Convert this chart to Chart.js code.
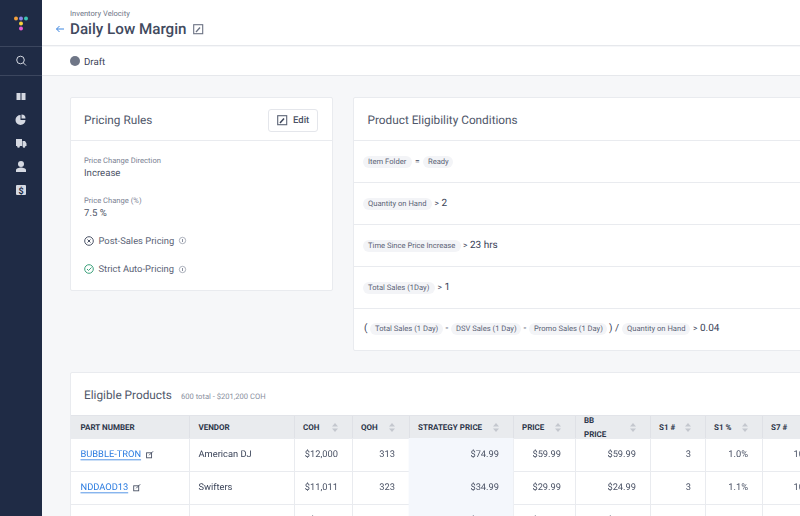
<!DOCTYPE html>
<html><head><meta charset="utf-8">
<script src="https://cdn.jsdelivr.net/npm/chart.js@4"></script>
<style>
*{box-sizing:border-box;margin:0;padding:0}
html,body{width:800px;height:516px;overflow:hidden;background:#f6f7f9;font-family:Roboto,sans-serif;color:#3a4358;text-rendering:geometricPrecision}
.abs{position:absolute;white-space:nowrap}
#side{left:0;top:0;width:42px;height:516px;background:#1f2b45}
.hl{position:absolute;height:1px;background:#3b465e;left:0;width:42px}
.white{background:#fff}
.card{position:absolute;background:#fff;border:1px solid #e9ebef;border-radius:2px}
.line{position:absolute;height:1px;background:#e9ebef}
.pill{position:absolute;height:12px;line-height:12px;border-radius:6px;background:#f3f4f7;font-size:7.6px;color:#5b6376;padding-left:5px;white-space:nowrap}
.big{font-size:10px;color:#3a4358;line-height:12px}
.big b{font-weight:400;font-size:8.5px}
.th{position:absolute;top:415px;height:24px;line-height:24px;font-size:8px;font-weight:700;color:#2c3549;white-space:nowrap}
.ct{font-size:11.8px;color:#4f576a}
canvas{display:block}
</style></head><body>
<div class="abs" id="side"></div>
<div class="hl" style="top:46px"></div><div class="hl" style="top:75px"></div>
<svg class="abs" style="left:0;top:0" width="42" height="210" viewBox="0 0 42 210">
<g><circle cx="16" cy="18.5" r="2" fill="#f5a13c"/><circle cx="21" cy="18.5" r="2" fill="#8b85e8"/><circle cx="26" cy="18.5" r="2" fill="#3cc4b4"/><circle cx="21" cy="23.5" r="2" fill="#f7d23c"/><circle cx="21" cy="28.5" r="2" fill="#e85bd4"/></g>
<circle cx="20.500" cy="60" r="3.800" fill="none" stroke="#d5d9e2" stroke-width="1"/><path d="M23.300 62.800l2.700 2.700" stroke="#d5d9e2"/>
<path d="M16.500 93h4v7h-4zM21.500 93h4v7h-4z" fill="#d5d9e2"/>
<path d="M20.500 115a5 5 0 1 0 5 5h-5z" fill="#d5d9e2"/><path d="M21.500 114.500a4 4 0 0 1 4 4h-4z" fill="#d5d9e2"/>
<path d="M16 139h6v7h-6zM22.500 141h2.500l1.500 2.500v2.500h-4z" fill="#d5d9e2"/><circle cx="18.500" cy="146.500" r="1.300" fill="#d5d9e2"/><circle cx="24" cy="146.500" r="1.300" fill="#d5d9e2"/>
<circle cx="21" cy="164" r="3" fill="#d5d9e2"/><path d="M16 172v-2c0-1.500 3-2.500 5-2.500s5 1 5 2.500v2z" fill="#d5d9e2"/>
<rect x="16" y="185" width="10" height="10" rx="1" fill="#d5d9e2"/><text x="21" y="193.500" font-size="9" font-weight="700" fill="#1f2b45" text-anchor="middle" font-family="Roboto">$</text>
</svg>
<div class="abs white" style="left:42px;top:0;width:758px;height:46px;border-bottom:1px solid #e6e8ec"></div>
<div class="abs white" style="left:42px;top:47px;width:758px;height:29px;border-bottom:1px solid #e6e8ec"></div>
<div class="abs" style="left:70px;top:8.500px;font-size:7.600px;color:#6f7687">Inventory Velocity</div>
<div class="abs" style="left:70px;top:20px;font-size:15.200px;font-weight:500;color:#414a5e">Daily Low Margin</div>
<svg class="abs" style="left:55px;top:24px" width="10" height="10" viewBox="0 0 10 10"><path d="M9 5H1.500M4.500 2L1.500 5l3 3" fill="none" stroke="#3d86e0" stroke-width="1"/></svg>
<svg class="abs" style="left:193px;top:24px" width="11" height="11" viewBox="0 0 11 11"><rect x=".7" y=".7" width="9" height="9" fill="none" stroke="#6b7283" stroke-width="1.100"/><path d="M3 8l4-4.500" stroke="#6b7283" stroke-width="1.300"/></svg>
<div class="abs" style="left:70px;top:56px;width:10px;height:10px;border-radius:5px;background:#6f7687"></div>
<div class="abs" style="left:84px;top:56.500px;font-size:9.700px;color:#3a4358">Draft</div>

<div class="card" style="left:70px;top:97px;width:263px;height:194px"></div>
<div class="line" style="left:71px;top:140px;width:261px"></div>
<div class="abs ct" style="left:84px;top:113px">Pricing Rules</div>
<div class="abs" style="left:268px;top:109px;width:50px;height:23px;border:1px solid #e4e6eb;border-radius:3px;background:#fff"></div>
<svg class="abs" style="left:277px;top:115px" width="11" height="11" viewBox="0 0 11 11"><rect x=".7" y=".7" width="9" height="9" fill="none" stroke="#5c6476" stroke-width="1.100"/><path d="M3 8l4-4.500" stroke="#3a4358" stroke-width="1.500"/></svg>
<div class="abs" style="left:293px;top:114.500px;font-size:9.500px;font-weight:500;color:#4b5366">Edit</div>
<div class="abs" style="left:84px;top:155.500px;font-size:7.600px;color:#7b8293">Price Change Direction</div>
<div class="abs" style="left:84px;top:168px;font-size:9.600px;color:#4b5366">Increase</div>
<div class="abs" style="left:84px;top:195.500px;font-size:7.600px;color:#7b8293">Price Change (%)</div>
<div class="abs" style="left:84px;top:208px;font-size:9.600px;color:#4b5366">7.5 %</div>
<svg class="abs" style="left:84px;top:235px" width="12" height="12" viewBox="0 0 12 12"><circle cx="5" cy="6" r="4.300" fill="none" stroke="#4b5366"/><path d="M3.500 4.500l3 3M6.500 4.500l-3 3" stroke="#4b5366"/></svg>
<div class="abs" style="left:98.500px;top:236px;font-size:9.400px;color:#5b6376">Post-Sales Pricing</div>
<svg class="abs" style="left:178px;top:236px" width="9" height="9" viewBox="0 0 9 9"><circle cx="4.500" cy="4.500" r="3.200" fill="none" stroke="#8a90a0" stroke-width=".7"/><path d="M4.500 3v3" stroke="#8a90a0"/></svg>
<svg class="abs" style="left:84px;top:263px" width="12" height="12" viewBox="0 0 12 12"><circle cx="5" cy="6" r="4.300" fill="none" stroke="#3da27c"/><path d="M3 6l1.500 1.500 3-3" fill="none" stroke="#3da27c"/></svg>
<div class="abs" style="left:98.500px;top:264px;font-size:9.400px;color:#5b6376">Strict Auto-Pricing</div>
<svg class="abs" style="left:178px;top:265px" width="9" height="9" viewBox="0 0 9 9"><circle cx="4.500" cy="4.500" r="3.200" fill="none" stroke="#8a90a0" stroke-width=".7"/><path d="M4.500 3v3" stroke="#8a90a0"/></svg>

<div class="card" style="left:353px;top:97px;width:460px;height:254px"></div>
<div class="abs ct" style="left:367.500px;top:113px">Product Eligibility Conditions</div>
<div class="line" style="left:354px;top:140px;width:446px"></div>
<div class="line" style="left:354px;top:182px;width:446px"></div>
<div class="line" style="left:354px;top:224px;width:446px"></div>
<div class="line" style="left:354px;top:266px;width:446px"></div>
<div class="line" style="left:354px;top:308px;width:446px"></div>
<div class="pill" style="left:363px;top:156px;width:49px">Item Folder</div><div class="abs big" style="left:415px;top:155.500px"><b>=</b></div><div class="pill" style="left:423px;top:156px;width:30px">Ready</div>
<div class="pill" style="left:363px;top:198px;width:69px">Quantity on Hand</div><div class="abs big" style="left:434.500px;top:197.500px"><b>&gt;</b> 2</div>
<div class="pill" style="left:363px;top:240px;width:98px">Time Since Price Increase</div><div class="abs big" style="left:463px;top:239.500px"><b>&gt;</b> 23 hrs</div>
<div class="pill" style="left:363px;top:282px;width:72px">Total Sales (1Day)</div><div class="abs big" style="left:437.500px;top:281.500px"><b>&gt;</b> 1</div>
<div class="abs big" style="left:364px;top:323px">(</div>
<div class="pill" style="left:370px;top:323px;width:73px">Total Sales (1 Day)</div><div class="abs big" style="left:445.500px;top:323px">-</div>
<div class="pill" style="left:451px;top:323px;width:70px">DSV Sales (1 Day)</div><div class="abs big" style="left:523.500px;top:323px">-</div>
<div class="pill" style="left:529px;top:323px;width:78px">Promo Sales (1 Day)</div><div class="abs big" style="left:609px;top:323px">) /</div>
<div class="pill" style="left:622px;top:323px;width:68px">Quantity on Hand</div><div class="abs big" style="left:693px;top:323px"><b>&gt;</b> 0.04</div>

<div class="card" style="left:70px;top:372px;width:760px;height:200px"></div>
<div class="abs ct" style="left:84px;top:388px">Eligible Products</div>
<div class="abs" style="left:181px;top:391.500px;font-size:7.600px;color:#8a90a0">600 total - $201,200 COH</div>
<div class="abs" style="left:71px;top:415px;width:729px;height:24px;background:#e9ebee;border-top:1px solid #e2e4e9"></div>
<div id="heads"></div>
<div class="abs" style="left:71px;top:438px;width:729px;height:99px"><canvas id="table" width="729" height="99" style="width:729px;height:99px"></canvas></div>

<script>
// Table content. Row 3 is cut off by the window in the reference: only the tips of
// its "$" signs show, so its dollar figures are estimates and other cells stay empty.
const headers = ['PART NUMBER','VENDOR','COH','QOH','STRATEGY PRICE','PRICE','BB PRICE','S1 #','S1 %','S7 #'];
const partNumbers = ['BUBBLE-TRON','NDDAOD13',''];
const vendors = ['American DJ','Swifters',''];
const coh = ['$12,000','$11,011','$9,980'];
const qoh = ['313','323',''];
const strategyPrice = ['$74.99','$34.99','$49.99'];
const price = ['$59.99','$29.99','$39.99'];
const bbPrice = ['$59.99','$24.99','$39.99'];
const s1Count = ['3','3',''];
const s1Pct = ['1.0%','1.1%',''];
const s7Count = ['10','10',''];
const columns = [partNumbers,vendors,coh,qoh,strategyPrice,price,bbPrice,s1Count,s1Pct,s7Count];
// column boundaries, in px from the table's left edge (layout only)
const edges = [0,118,223,281,338,442,504,579,634,691,729];
const sortable = [false,false,true,true,true,true,true,true,true,false];

const headEl = document.getElementById('heads');
headers.forEach((h,i)=>{
  const left = 71+edges[i]+(i<2?9.5:9);
  const el = document.createElement('div');
  el.className='th';
  el.style.left = left+'px';
  if(h==='BB PRICE'){
    el.innerHTML='BB<br>PRICE';el.style.lineHeight='14px';el.style.top='413.5px';
  } else { el.textContent=h; el.style.top='415.5px'; }
  headEl.appendChild(el);
  if(i>1){
    const b=document.createElement('div');
    b.className='abs';b.style.cssText+=`left:${71+edges[i]}px;top:416px;width:1px;height:22px;background:#dfe1e6`;
    headEl.appendChild(b);
  }
  if(sortable[i]){
    const ns='http://www.w3.org/2000/svg';
    const s=document.createElementNS(ns,'svg');
    s.setAttribute('width','7');s.setAttribute('height','9');s.setAttribute('class','abs');
    s.style.left=(71+edges[i+1]-20)+'px';s.style.top='423px';
    s.innerHTML='<path d="M0 3.500L3 0l3 3.500zM0 5.500L3 9l3-3.500z" fill="#c4c7ce"/>';
    headEl.appendChild(s);
  }
});
headEl.insertAdjacentHTML('beforeend','<div class="abs" style="left:189px;top:416px;width:1px;height:22px;background:#dfe1e6"></div>');

const cellText = {
  id:'cellText',
  afterDatasetsDraw(chart){
    const {ctx,scales:{x,y}} = chart;
    ctx.save();
    ctx.textBaseline='middle';
    ctx.textRendering='geometricPrecision';
    ctx.font='9.3px Roboto, sans-serif';
    columns.forEach((col,c)=>{
      col.forEach((v,r)=>{
        if(!v) return;
        const py = y.getPixelForValue(r)+0.3;
        if(c<2){
          ctx.textAlign='left';
          const px = x.getPixelForValue(edges[c])+9.5;
          ctx.fillStyle = c===0?'#2a7be0':'#3a4358';
          ctx.fillText(v,px,py);
          if(c===0){
            const w=ctx.measureText(v).width;
            ctx.strokeStyle='#2a7be0';ctx.lineWidth=.8;
            ctx.beginPath();ctx.moveTo(px,py+5);ctx.lineTo(px+w,py+5);ctx.stroke();
            ctx.strokeStyle='#4b5366';ctx.lineWidth=.9;
            ctx.strokeRect(px+w+5.5,py-2,5,5);
            ctx.beginPath();ctx.moveTo(px+w+8,py+.5);ctx.lineTo(px+w+12,py-3.5);ctx.stroke();
          }
        } else {
          ctx.textAlign='right';
          ctx.fillStyle='#4b5366';
          const base = c===9 ? x.getPixelForValue(edges[9])+42 : x.getPixelForValue(edges[c+1])-14;
          ctx.fillText(v,base,py);
        }
      });
    });
    ctx.restore();
  }
};
new Chart(document.getElementById('table'),{
  type:'bar',
  plugins:[cellText],
  data:{labels:['row1','row2','row3'],datasets:[{
    label:'STRATEGY PRICE',
    data:partNumbers.map(()=>[edges[4],edges[5]]),
    backgroundColor:'#f4f7fc',borderWidth:0,barPercentage:1,categoryPercentage:1
  }]},
  options:{
    indexAxis:'y',responsive:false,animation:false,
    layout:{padding:0},
    plugins:{legend:{display:false},tooltip:{enabled:false}},
    scales:{
      x:{type:'linear',min:0,max:729,display:true,
        afterFit(s){s.height=0},
        afterBuildTicks(s){s.ticks=edges.slice(1,10).map(v=>({value:v}))},
        ticks:{display:false},border:{display:false},
        grid:{color:'#e9ebef',drawTicks:false,z:0}},
      y:{type:'category',display:true,
        afterFit(s){s.width=0},
        ticks:{display:false},border:{display:false},
        grid:{color:'#e9ebef',drawTicks:false,offset:true}}
    }
  }
});
</script>
</body></html>
